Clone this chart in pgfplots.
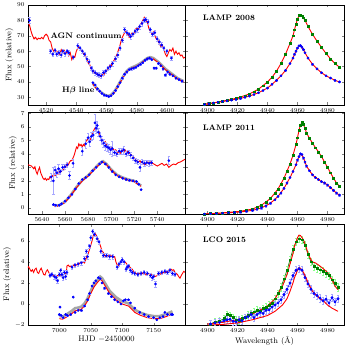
\documentclass[border=0pt]{standalone}
\usepackage{pgfplots}
\pgfplotsset{compat=1.18}
\usepackage{bm}

\pgfplotsset{
  panel/.style={scale only axis, anchor=south west,
    tick label style={font=\fontsize{6.5}{7}\selectfont},
    label style={font=\footnotesize},
    /pgf/number format/1000 sep={},
    axis line style={line width=0.6pt}, major tick length=2.5pt},
  lpanel/.style={panel, width=157pt, ylabel={Flux (relative)}, ylabel shift=-3pt},
  rpanel/.style={panel, width=159pt, yticklabels={}, xtick={4900,4920,...,4980}, xmin=4885, xmax=4991},
  redl/.style={red, line width=0.9pt},
  band/.style={gray!70, line width=2.6pt},
  bpts/.style={only marks, mark=*, mark size=1.15pt, blue,
    error bars/y dir=both, error bars/y explicit,
    error bars/error bar style={blue!35, line width=0.9pt}},
  gpts/.style={only marks, mark=square*, mark size=0.9pt, green!50!black,
    error bars/y dir=both, error bars/y explicit,
    error bars/error bar style={green!45, line width=0.8pt}},
}

\begin{document}
\begin{tikzpicture}
% ---------------- top row ----------------
\begin{axis}[lpanel, at={(28pt,245pt)}, height=100pt,
  xmin=4508, xmax=4612, ymin=25, ymax=90,
  xtick={4520,4540,...,4600}, ytick={30,40,...,90}]
\addplot[redl] coordinates {
(4508,78)(4509,77)(4510,73)(4511,70)(4512,68)(4513,69)(4514,67.5)(4515,68.5)(4516,68)(4517,69)
(4518,68)(4519,70)(4520,71)(4521,70)(4522,67)(4523,66)(4524,62)(4525,60)(4526,61)(4527,58.5)
(4528,60)(4529,58)(4530,61)(4531,59)(4532,60.5)(4533,58)(4534,60)(4535,57)(4536,59)(4537,54.5)
(4538,57)(4539,56)(4540,60)(4541,62)(4542,63)(4543,61)(4544,60.5)(4545,58)(4546,57)(4547,55)
(4548,52)(4549,51)(4550,48)(4551,47.5)(4552,46)(4553,45)(4554,45.5)(4555,44)(4556,43.5)(4557,45)
(4558,44)(4559,46)(4560,47)(4561,48)(4562,50.5)(4563,50)(4564,53)(4565,54)(4566,56)(4567,58)
(4568,61)(4569,64)(4570,68)(4571,70)(4572,72)(4573,73)(4574,71)(4575,69)(4576,70)(4577,72)
(4578,71)(4579,74)(4580,75)(4581,74.5)(4582,77)(4583,78)(4584,80)(4585,82)(4586,80)(4587,79)
(4588,75)(4589,73)(4590,71.5)(4591,72.5)(4592,70)(4593,68)(4594,67)(4595,65)(4596,63)(4597,64)
(4598,61)(4599,58)(4600,56.5)(4601,59)(4602,61)(4603,60)(4604,62)(4605,58)(4606,60)(4607,58)
(4608,59)(4609,57)(4610,57.5)(4611,55.5)(4612,56)};
\addplot[bpts] table[x=x, y=y, y error=e] {
x y e
4509 80 2
4523 60 1.5
4524.5 58 1.5
4526 60.5 1.5
4527 58 1.5
4528.5 59 1.5
4530 57.5 1.5
4531 60 1.5
4532.5 58.5 1.5
4534 60 1.5
4535 59 1.5
4538 56 1.5
4541 63.5 1.5
4542.5 62 1.5
4544 60 1.5
4545.5 58 1.5
4547 55 1.5
4548.5 53 1.5
4550 49 1.5
4551 47 1.5
4552.5 46 1.5
4554 45 1.5
4555 44.5 1.5
4556.5 44 1.5
4558 46 1.5
4559.5 47 1.5
4561 49 1.5
4562.5 50 1.5
4564 52 1.5
4566 55 1.5
4567.5 57.5 1.5
4569 62 1.5
4570.5 67 1.5
4572 74 1.5
4573.5 72 1.5
4575 71 1.5
4576 69.5 1.5
4577.5 71 1.5
4579 73 1.5
4580.5 74 1.5
4582 76 1.5
4583.5 78 1.5
4585 80 1.5
4586 80.5 1.5
4587.5 79 1.5
4589 74 1.5
4590.5 71 1.5
4592 72 1.5
4593.5 68 1.5
4595 66 1.5
4596.5 64 1.5
4598 62 1.5
4600 60 1.5
4603 55.5 1.5
};
\addplot[band] coordinates {
(4551,39)(4553,36.5)(4555,34.5)(4557,32.8)(4559,31.5)(4561,30.9)(4563,31.5)(4565,33.5)(4567,36.5)
(4569,40)(4571,43.5)(4573,46.5)(4575,48.5)(4577,49.5)(4579,50.3)(4581,51.3)(4583,52.5)(4585,54)
(4587,55.5)(4589,56.1)(4591,55.5)(4593,54)(4595,52.5)(4597,50.5)(4599,48.5)(4601,47)(4603,45.5)
(4605,44)(4607,42.5)(4609,41.5)(4611,40.5)};
\addplot[redl] coordinates {
(4551,38.5)(4553,36)(4555,34)(4557,32.3)(4559,31)(4561,30.4)(4563,31)(4565,33)(4567,36)
(4569,39.5)(4571,43)(4573,46)(4575,48)(4577,49)(4579,49.8)(4581,50.8)(4583,52)(4585,53.5)
(4587,55)(4589,55.6)(4591,55)(4593,53.5)(4595,52)(4597,50)(4599,48)(4601,46.5)(4603,45)
(4605,43.5)(4607,42)(4609,41)(4611,40)};
\addplot[bpts] table[x=x, y=y, y error=e] {
x y e
4551 39.5 0.6
4552.5 38 0.6
4554 35.5 0.6
4555.5 34 0.6
4557 32.5 0.6
4558.5 31.5 0.6
4560 31 0.6
4561.5 30.5 0.6
4563 31 0.6
4564.5 32.5 0.6
4566 34.5 0.6
4567.5 37 0.6
4569 39.5 0.6
4570.5 42.5 0.6
4572 45 0.6
4573.5 46.5 0.6
4575 48 0.6
4576.5 48.5 0.6
4578 49 0.6
4579.5 49.5 0.6
4581 50.5 0.6
4582.5 51.5 0.6
4584 52.5 0.6
4585.5 54 0.6
4587 55 0.6
4588.5 55.5 0.6
4590 54.5 0.6
4591.5 49 0.6
4593 49 0.6
4594.5 52 0.6
4596 50.5 0.6
4597.5 48.5 0.6
4599 44.5 0.6
4600.5 46.5 0.6
4602 45 0.6
4604 44 0.6
4606 42.5 0.6
4608 41.5 0.6
4610 40.5 0.6
};
\node[font=\footnotesize\bfseries] at (rel axis cs:0.37,0.69) {AGN continuum};
\node[font=\footnotesize\bfseries] at (rel axis cs:0.32,0.14) {H$\bm{\beta}$ line};
\end{axis}

\begin{axis}[rpanel, at={(185pt,245pt)}, height=100pt,
  ymin=25, ymax=90, ytick={30,40,...,90}]
\addplot[gpts] table[x=x, y=y, y error expr=0.4] {
x y
4898 25.5
4901 26
4904 26.4
4907 26.9
4910 27.5
4913 28
4916 28.6
4919 29.3
4922 30.2
4925 31
4928 32.2
4931 33.6
4934 35.3
4937 37.5
4940 40
4943 43
4946 47
4949 52
4952 58
4955 65
4957 70
4958 74
4959 77.5
4960 81
4961 83.5
4962 83.6
4963 83
4964 81.8
4965 80
4967 76
4970 71
4973 66.5
4976 62.5
4979 58.5
4982 55
4985 52
4988 49.5
};
\addplot[redl] coordinates {
(4898,25.5)(4904,26.4)(4910,27.5)(4916,28.6)(4922,30.2)(4928,32.2)(4934,35.3)(4940,40)(4943,43)
(4946,47)(4949,52)(4952,58)(4955,65)(4957,70)(4958,74)(4959,77.5)(4960,81)(4961,83)(4962,83.2)
(4963,82.7)(4964,81.5)(4965,80)(4967,76)(4970,71)(4973,66.5)(4976,62.5)(4979,58.5)(4982,55)
(4985,52)(4988,49.5)};
\addplot[bpts] table[x=x, y=y, y error expr=0.4] {
x y
4898 25.3
4901 25.8
4904 26.3
4907 26.8
4910 27.3
4913 27.7
4916 28.2
4919 28.6
4922 29.3
4925 30
4928 30.8
4931 31.8
4934 33
4937 34.4
4940 36
4943 38.5
4946 41
4949 44
4952 47.5
4955 52
4957 55.5
4958 58
4959 60
4960 62
4961 63.5
4962 63.6
4963 62.5
4964 61
4965 59
4967 55.5
4970 51.5
4973 48.5
4976 46
4979 44
4982 42.5
4985 41
4988 40
};
\addplot[redl] coordinates {
(4898,25.3)(4904,26.3)(4910,27.3)(4916,28.2)(4922,29.3)(4928,30.8)(4934,33)(4940,36)(4943,38.5)
(4946,41)(4949,44)(4952,47.5)(4955,52)(4957,55.5)(4958,58)(4959,60)(4960,62)(4961,63.3)(4962,63.4)
(4963,62.5)(4964,61)(4965,59)(4967,55.5)(4970,51.5)(4973,48.5)(4976,46)(4979,44)(4982,42.5)
(4985,41)(4988,40)};
\node[font=\footnotesize\bfseries, anchor=west] at (rel axis cs:0.09,0.87) {LAMP 2008};
\end{axis}

% ---------------- middle row ----------------
\begin{axis}[lpanel, at={(28pt,136pt)}, height=102pt,
  xmin=5628, xmax=5764, ymin=-0.45, ymax=7.1,
  xtick={5640,5660,...,5740}, ytick={0,1,...,7}]
\addplot[redl] coordinates {
(5628,3.2)(5631,3.1)(5632,3.0)(5633,2.9)(5634,3.05)(5635,2.7)(5636,2.5)(5637,2.8)(5638,3.0)(5639,2.6)
(5640,2.4)(5641,2.2)(5642,2.1)(5643,2.2)(5644,2.05)(5645,2.15)(5646,2.1)(5647,2.3)(5648,2.2)(5649,2.4)
(5650,2.3)(5651,2.5)(5652,2.4)(5653,2.7)(5654,2.5)(5655,2.6)(5656,2.8)(5657,2.7)(5658,2.9)(5659,2.8)
(5660,3.0)(5661,3.1)(5662,3.3)(5663,3.2)(5664,3.4)(5665,3.5)(5666,3.5)(5667,3.7)(5668,3.9)(5669,4.2)
(5670,4.5)(5671,4.4)(5672,4.75)(5673,4.6)(5674,4.7)(5675,4.5)(5676,4.7)(5677,4.6)(5678,4.9)(5679,5.0)
(5680,5.1)(5681,5.2)(5682,5.0)(5683,5.4)(5684,5.5)(5685,5.75)(5686,5.9)(5687,6.1)(5688,5.95)(5689,5.75)
(5690,5.5)(5691,5.25)(5692,5.1)(5693,5.0)(5694,4.8)(5695,4.9)(5696,4.7)(5697,4.6)(5698,4.55)(5699,4.4)
(5700,4.45)(5701,4.3)(5702,4.35)(5703,4.2)(5704,4.3)(5705,4.15)(5706,4.1)(5707,4.2)(5708,4.05)(5709,4.2)
(5710,4.25)(5711,4.1)(5712,4.3)(5713,4.15)(5714,4.2)(5715,4.0)(5716,4.1)(5717,3.95)(5718,3.9)(5719,3.85)
(5720,3.7)(5721,3.6)(5722,3.5)(5723,3.45)(5724,3.4)(5725,3.5)(5726,3.35)(5727,3.4)(5728,3.25)(5729,3.3)
(5730,3.2)(5731,3.35)(5732,3.4)(5733,3.25)(5734,3.4)(5736,3.3)(5738,3.2)(5740,3.1)(5742,3.2)(5744,3.3)
(5746,3.15)(5748,3.25)(5750,3.0)(5752,3.15)(5754,3.25)(5756,3.2)(5758,3.35)(5760,3.4)(5762,3.5)(5764,3.6)};
\addplot[bpts] table[x=x, y=y, y error=e] {
x y e
5648 2.3 0.3
5650 2.0 1.0
5651.5 2.8 0.3
5653 2.6 0.3
5654.5 2.9 0.3
5656 2.7 0.2
5658 3.0 0.2
5660 3.05 0.2
5662 3.2 0.2
5664 2.4 0.3
5667 3.3 0.3
5675 4.2 0.3
5678 4.75 0.3
5680 5.2 0.3
5681.5 4.9 0.3
5683 5.3 0.3
5684.5 5.4 0.3
5686 6.3 0.6
5687 5.9 0.4
5688 6.1 0.3
5689 5.6 0.3
5690.5 5.3 0.3
5692 5.0 0.3
5693.5 4.8 0.3
5695 4.6 0.3
5696.5 4.5 0.3
5698 4.45 0.3
5699.5 4.3 0.3
5701 4.4 0.55
5703 4.1 0.2
5705 4.0 0.2
5707 4.2 0.2
5709 4.2 0.2
5711 4.3 0.3
5713 4.0 0.2
5715 4.1 0.2
5717 3.9 0.2
5719 3.7 0.2
5721 3.5 0.2
5723 3.4 0.2
5725 3.0 0.3
5727 3.4 0.2
5729 3.3 0.2
5731 3.35 0.2
5733 3.3 0.2
5735 3.35 0.2
5750 3.5 0.3
};
\addplot[band] coordinates {
(5651,0.15)(5655,0.2)(5660,0.45)(5665,0.95)(5670,1.55)(5675,2.05)(5680,2.4)(5685,2.85)(5690,3.3)
(5693,3.45)(5696,3.25)(5700,2.85)(5705,2.45)(5710,2.25)(5715,2.1)(5720,2.0)(5724,1.75)(5726,1.65)};
\addplot[redl] coordinates {
(5651,0.1)(5655,0.15)(5660,0.4)(5665,0.9)(5670,1.5)(5675,2.0)(5680,2.35)(5685,2.8)(5690,3.25)
(5693,3.4)(5696,3.2)(5700,2.8)(5705,2.4)(5710,2.2)(5715,2.05)(5720,1.95)(5724,1.7)(5726,1.6)};
\addplot[bpts] table[x=x, y=y, y error expr=0.05] {
x y
5650 0.25
5652 0.2
5655 0.2
5657 0.3
5660 0.5
5663 0.75
5666 1.0
5669 1.4
5672 1.8
5675 2.1
5678 2.25
5681 2.45
5684 2.75
5687 3.0
5690 3.25
5692 3.4
5695 3.25
5698 3.0
5701 2.7
5704 2.45
5707 2.3
5710 2.2
5713 2.1
5716 2.05
5719 2.0
5722 1.95
5724 1.75
5726 1.35
};
\end{axis}

\begin{axis}[rpanel, at={(185pt,136pt)}, height=102pt,
  ymin=-0.45, ymax=7.1, ytick={0,1,...,7}]
\addplot[gpts] table[x=x, y=y, y error expr=0.06] {
x y
4898 -0.45
4902 -0.42
4906 -0.4
4910 -0.37
4914 -0.33
4918 -0.3
4922 -0.25
4926 -0.18
4930 -0.08
4933 0.05
4936 0.2
4939 0.4
4942 0.7
4945 1.1
4947 1.4
4949 1.75
4951 2.2
4953 2.7
4955 3.25
4957 3.9
4959 4.7
4960 5.2
4961 5.75
4962 6.15
4963 6.35
4964 6.2
4965 5.9
4966 5.55
4968 5.15
4970 4.8
4972 4.45
4974 4.15
4976 3.8
4978 3.4
4980 3.0
4982 2.6
4984 2.2
4986 1.85
4988 1.6
};
\addplot[redl] coordinates {
(4898,-0.45)(4906,-0.4)(4914,-0.33)(4922,-0.25)(4930,-0.08)(4936,0.2)(4942,0.7)(4947,1.4)(4951,2.2)
(4955,3.25)(4957,3.9)(4959,4.7)(4960,5.2)(4961,5.75)(4962,6.15)(4963,6.3)(4964,6.15)(4965,5.9)
(4966,5.55)(4968,5.15)(4970,4.8)(4972,4.45)(4974,4.15)(4976,3.8)(4978,3.4)(4980,3.0)(4982,2.6)
(4984,2.2)(4986,1.85)(4988,1.6)};
\addplot[bpts] table[x=x, y=y, y error expr=0.06] {
x y
4898 -0.45
4902 -0.43
4906 -0.41
4910 -0.39
4914 -0.36
4918 -0.33
4922 -0.3
4926 -0.25
4930 -0.18
4933 -0.1
4936 0.0
4939 0.15
4942 0.35
4945 0.6
4947 0.85
4949 1.1
4951 1.45
4953 1.85
4955 2.25
4957 2.7
4959 3.2
4960 3.55
4961 3.8
4962 4.0
4963 3.95
4964 3.7
4965 3.4
4966 3.1
4968 2.75
4970 2.45
4972 2.25
4974 2.1
4976 1.95
4978 1.85
4980 1.7
4982 1.5
4984 1.3
4986 1.1
4988 0.95
};
\addplot[redl] coordinates {
(4898,-0.45)(4906,-0.41)(4914,-0.36)(4922,-0.3)(4930,-0.18)(4936,0.0)(4942,0.35)(4947,0.85)(4951,1.45)
(4955,2.25)(4957,2.7)(4959,3.2)(4960,3.55)(4961,3.8)(4962,3.97)(4963,3.9)(4964,3.7)(4965,3.4)
(4966,3.1)(4968,2.75)(4970,2.45)(4972,2.25)(4974,2.1)(4976,1.95)(4978,1.85)(4980,1.7)(4982,1.5)
(4984,1.3)(4986,1.1)(4988,0.95)};
\node[font=\footnotesize\bfseries, anchor=west] at (rel axis cs:0.09,0.85) {LAMP 2011};
\end{axis}

% ---------------- bottom row ----------------
\begin{axis}[lpanel, at={(28pt,25pt)}, height=101pt,
  xmin=6950, xmax=7200, ymin=-2, ymax=7.6,
  xtick={7000,7050,7100,7150}, ytick={-2,0,2,4,6},
  xlabel={HJD $-2450000$}, xlabel shift=-3pt]
\addplot[redl] coordinates {
(6949,3.4)(6951,3.55)(6953,3.3)(6955,3.1)(6957,3.25)(6959,3.0)(6961,3.3)(6963,3.4)(6965,3.0)(6967,2.9)
(6969,3.2)(6971,3.4)(6973,3.1)(6975,2.8)(6977,2.75)(6979,3.1)(6981,3.25)(6983,3.0)(6985,2.8)(6987,2.75)
(6989,2.8)(6991,2.7)(6993,2.75)(6995,2.6)(6997,2.7)(6999,2.65)(7001,2.7)(7003,2.6)(7005,2.8)(7007,2.75)
(7009,2.9)(7011,2.8)(7012,3.6)(7014,3.7)(7016,3.55)(7018,3.6)(7020,3.5)(7022,3.7)(7024,3.6)(7026,3.75)
(7028,3.7)(7030,3.8)(7032,3.85)(7034,4.0)(7036,3.95)(7038,4.0)(7040,3.9)(7042,4.2)(7044,4.6)(7046,4.8)
(7048,5.2)(7050,5.6)(7052,6.0)(7054,6.5)(7056,6.75)(7058,6.6)(7060,6.4)(7062,6.0)(7064,5.75)(7066,5.4)
(7068,5.0)(7070,4.9)(7072,4.6)(7074,4.5)(7076,4.6)(7078,4.55)(7080,4.65)(7082,4.5)(7084,4.6)(7086,4.45)
(7088,4.5)(7090,4.0)(7092,3.7)(7094,3.6)(7096,3.9)(7098,4.1)(7100,4.2)(7102,4.1)(7104,4.0)(7106,3.9)
(7108,3.75)(7110,3.7)(7112,3.5)(7114,3.4)(7116,3.3)(7118,3.1)(7120,3.0)(7122,2.9)(7124,2.85)(7126,2.95)
(7128,2.9)(7130,2.85)(7132,2.95)(7134,2.8)(7136,2.9)(7138,2.75)(7140,2.8)(7142,2.9)(7144,2.85)(7146,2.9)
(7148,2.7)(7150,2.75)(7152,2.6)(7154,2.65)(7156,2.7)(7158,2.85)(7160,2.9)(7162,2.8)(7164,2.95)(7166,3.0)
(7168,2.9)(7170,3.1)(7172,3.0)(7174,3.2)(7176,3.35)(7178,3.3)(7180,3.2)(7182,3.25)(7184,3.0)(7186,2.9)
(7188,2.8)(7190,2.6)(7192,2.45)(7194,2.7)(7196,2.9)(7198,3.1)(7200,3.0)};
\addplot[bpts] table[x=x, y=y, y error=e] {
x y e
6985 2.7 0.2
6988 2.8 0.2
6992 2.6 0.2
6995 2.5 0.2
6997 2.2 0.2
7000 2.8 0.2
7002 3.2 0.2
7004 2.8 0.2
7006 2.5 0.2
7008 3.0 0.2
7010 2.6 0.2
7012 3.0 0.2
7020 3.5 0.2
7025 3.7 0.2
7030 3.8 0.2
7035 3.9 0.2
7040 4.3 0.2
7043 5.0 0.2
7045 4.5 0.2
7048 5.5 0.2
7050 6.3 0.2
7053 6.9 0.2
7056 6.6 0.2
7060 6.2 0.2
7063 5.9 0.2
7066 5.0 0.2
7070 4.6 0.2
7075 4.6 0.2
7080 4.5 0.2
7085 4.5 0.2
7092 3.5 0.2
7095 3.8 0.2
7098 4.0 0.2
7100 4.2 0.2
7103 4.0 0.2
7106 3.3 0.2
7108 3.5 0.2
7110 3.6 0.2
7113 3.2 0.2
7116 3.0 0.2
7120 2.9 0.2
7125 2.8 0.2
7130 2.9 0.2
7135 3.0 0.2
7140 2.9 0.2
7145 2.7 0.2
7148 2.5 0.2
7150 2.6 0.2
7153 1.9 0.3
7158 2.9 0.2
7163 3.0 0.2
7168 3.1 0.2
7172 3.0 0.2
7176 3.2 0.2
7180 2.9 0.2
7184 2.8 0.2
};
\addplot[band] coordinates {
(7000,-1.15)(7005,-1.2)(7010,-1.05)(7015,-0.85)(7020,-0.65)(7025,-0.4)(7030,-0.35)(7035,-0.25)
(7040,0.05)(7045,0.55)(7050,1.25)(7055,1.85)(7060,2.25)(7065,2.6)(7068,2.45)(7072,2.05)(7076,1.65)
(7080,1.25)(7085,0.95)(7090,0.65)(7095,0.45)(7100,0.25)(7105,0.15)(7110,0.05)(7115,-0.25)(7120,-0.55)
(7130,-0.85)(7140,-1.05)(7150,-1.15)(7160,-1.15)(7170,-0.95)(7180,-0.7)};
\addplot[redl] coordinates {
(7000,-1.4)(7005,-1.45)(7010,-1.3)(7015,-1.1)(7020,-0.9)(7025,-0.65)(7030,-0.6)(7035,-0.5)
(7040,-0.2)(7045,0.3)(7050,1.0)(7055,1.6)(7060,2.0)(7065,2.35)(7068,2.2)(7072,1.8)(7076,1.4)
(7080,1.0)(7085,0.7)(7090,0.4)(7095,0.2)(7100,0.0)(7105,-0.1)(7110,-0.2)(7115,-0.5)(7120,-0.8)
(7130,-1.1)(7140,-1.3)(7150,-1.4)(7160,-1.4)(7170,-1.2)(7180,-0.95)};
\addplot[bpts] table[x=x, y=y, y error expr=0.05] {
x y
7000 -1.0
7001 -0.3
7003 -1.1
7006 -1.3
7010 -1.0
7013 -1.1
7018 -1.0
7022 0.65
7025 -0.8
7030 -0.6
7035 -0.6
7040 -0.2
7045 0.4
7048 1.0
7052 1.7
7055 2.0
7058 2.2
7062 2.5
7065 2.4
7068 2.0
7072 1.5
7078 1.0
7083 0.7
7088 0.4
7093 0.2
7098 0.0
7102 0.3
7105 0.4
7110 0.4
7113 0.1
7120 -0.4
7128 -0.8
7135 -1.0
7142 -1.2
7150 -1.3
7155 -1.5
7160 -1.3
7165 -1.2
7168 -0.8
7172 -1.0
7178 -1.0
7180 -1.0
};
\end{axis}

\begin{axis}[rpanel, at={(185pt,25pt)}, height=101pt,
  ymin=-2, ymax=7.6, ytick={-2,0,2,4,6},
  xlabel={Wavelength (\AA)}, xlabel shift=-3pt]
\addplot[gpts, sharp plot, line width=0.6pt] table[x=x, y=y, y error expr=0.35] {
x y
4902 -1.9
4905 -1.7
4908 -1.6
4911 -1.4
4913 -1.0
4915 -1.1
4917 -1.3
4919 -1.5
4921 -1.6
4923 -1.4
4925 -1.3
4927 -1.05
4929 -0.9
4931 -0.75
4933 -0.6
4935 -0.65
4937 -0.45
4939 -0.3
4941 -0.1
4943 0.1
4945 0.5
4947 1.0
4949 1.6
4951 2.4
4953 3.2
4955 4.2
4957 5.2
4959 5.9
4961 6.2
4963 6.1
4965 5.6
4967 4.7
4969 4.0
4971 3.6
4973 3.4
4975 3.25
4977 3.1
4979 2.9
4981 2.7
4983 2.3
4985 2.0
4987 1.6
};
\addplot[bpts, sharp plot, line width=0.6pt] table[x=x, y=y, y error expr=0.35] {
x y
4902 -1.9
4905 -1.8
4908 -1.75
4911 -1.6
4913 -1.5
4915 -1.45
4917 -1.65
4919 -1.7
4921 -1.5
4923 -1.6
4925 -1.3
4927 -1.2
4929 -1.0
4931 -1.3
4933 -1.0
4935 -0.8
4937 -0.9
4939 -0.6
4941 -0.55
4943 -0.3
4945 -0.1
4947 0.1
4949 0.4
4951 0.9
4953 1.4
4955 2.0
4957 2.7
4959 3.2
4961 3.35
4963 3.2
4965 2.5
4967 1.9
4969 1.4
4971 1.0
4973 0.8
4975 0.55
4977 0.3
4979 0.45
4981 0.1
4983 0.6
4985 0.2
4987 0.5
};
\addplot[redl] coordinates {
(4900,-1.9)(4910,-1.75)(4920,-1.5)(4930,-0.95)(4940,-0.2)(4945,0.5)(4950,1.7)(4953,2.8)(4955,3.8)
(4957,4.8)(4958,5.5)(4960,6.3)(4961,6.55)(4962,6.5)(4964,6.1)(4966,5.3)(4967,4.8)(4969,4.2)(4970,4.0)
(4972,3.9)(4975,3.6)(4978,3.25)(4980,3.0)(4983,2.3)(4985,1.7)(4987,1.35)};
\addplot[redl] coordinates {
(4900,-2.0)(4910,-1.95)(4920,-1.8)(4930,-1.5)(4940,-1.1)(4945,-0.7)(4950,-0.1)(4953,0.5)(4955,1.2)
(4957,2.0)(4958,2.5)(4960,3.2)(4961,3.45)(4962,3.4)(4964,3.0)(4966,2.4)(4967,2.0)(4969,1.5)(4970,1.2)
(4972,0.9)(4975,0.5)(4978,0.2)(4980,-0.1)(4983,-0.4)(4985,-0.55)(4987,-0.7)};
\node[font=\footnotesize\bfseries, anchor=west] at (rel axis cs:0.09,0.84) {LCO 2015};
\end{axis}

\pgfresetboundingbox
\path (0pt,0pt) rectangle (350pt,350pt);
\end{tikzpicture}
\end{document}
